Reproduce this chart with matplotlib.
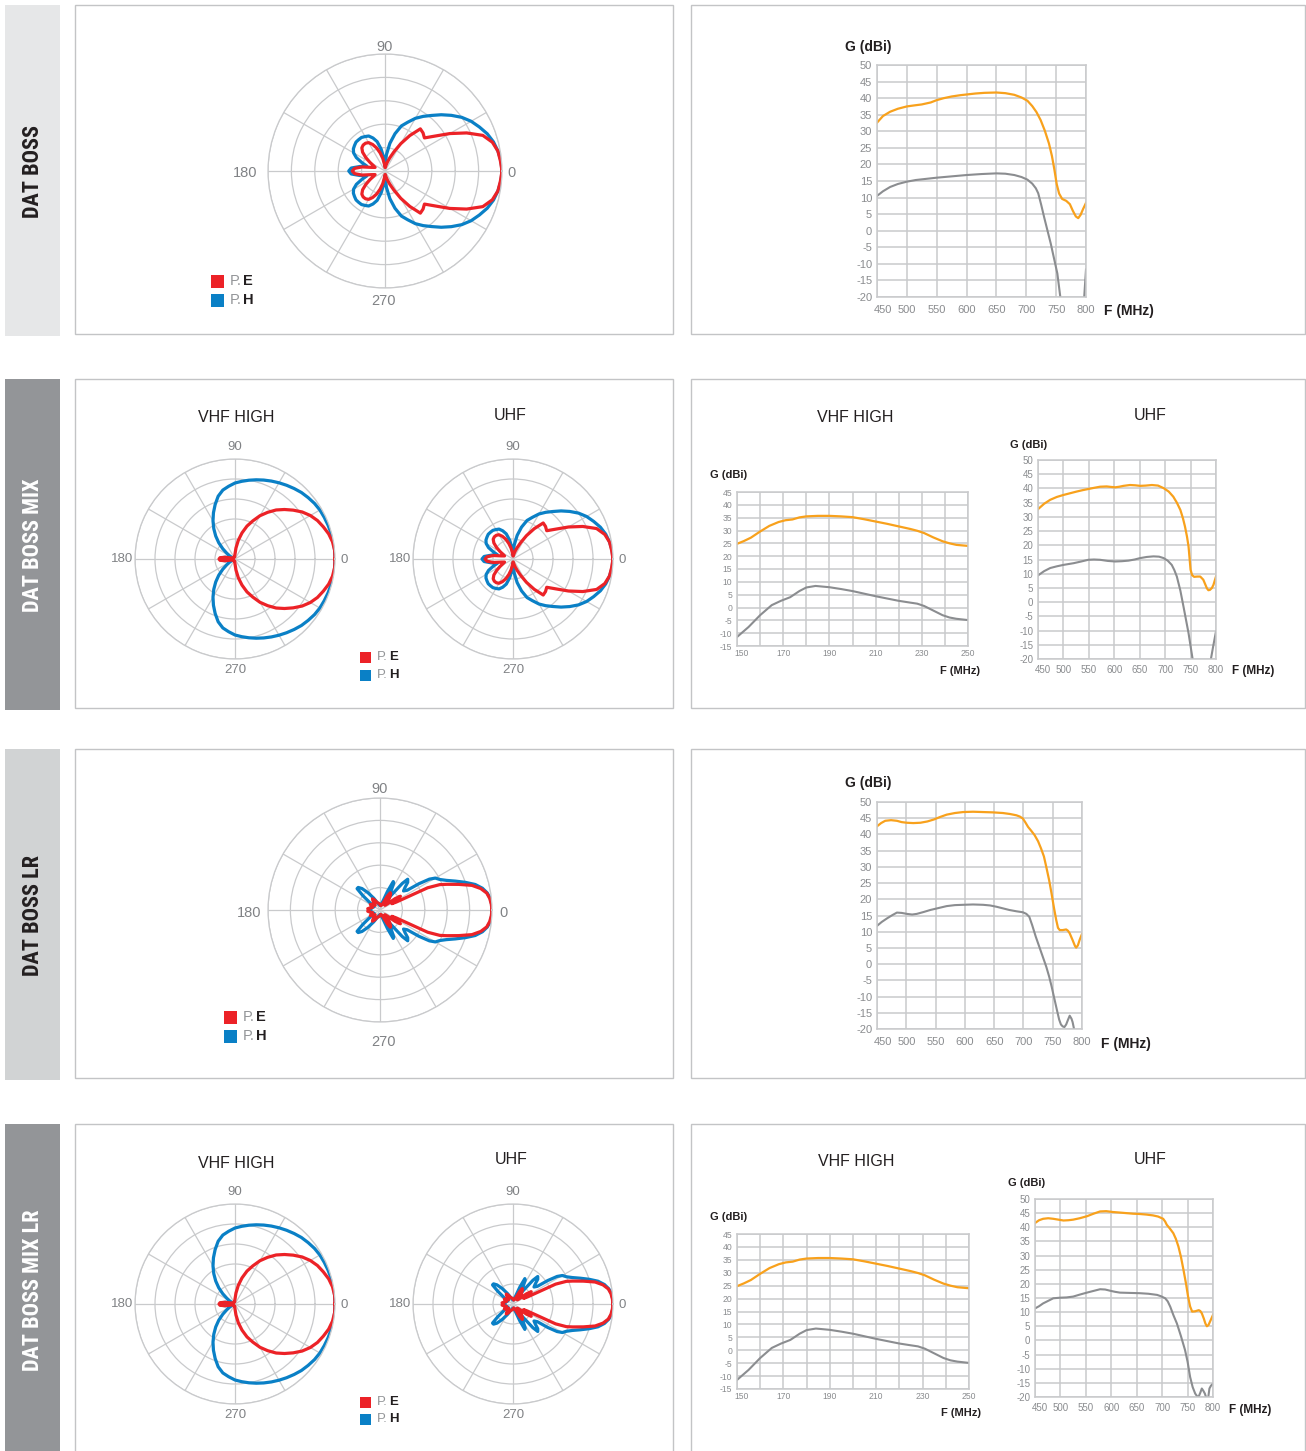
import numpy as np
import matplotlib
matplotlib.use("Agg")
import matplotlib.pyplot as plt
from matplotlib.patches import Rectangle
from matplotlib.transforms import ScaledTranslation
from matplotlib import font_manager

# ---------------- data ----------------
# radiation patterns (normalised), read every 5 deg from 0 to 180, patterns are symmetric
pat_ang = list(range(0, 181, 5))

uhf_pe = [1.00, 0.99, 0.98, 0.95, 0.89, 0.77, 0.64, 0.52, 0.44, 0.46, 0.47, 0.37, 0.27, 0.18, 0.12, 0.08, 0.05, 0.03, 0.03,
          0.06, 0.11, 0.16, 0.21, 0.25, 0.28, 0.29, 0.29, 0.28, 0.25, 0.20, 0.15, 0.11, 0.09, 0.12, 0.20, 0.26, 0.28]
uhf_ph = [1.00, 0.995, 0.98, 0.96, 0.93, 0.89, 0.85, 0.80, 0.74, 0.68, 0.62, 0.57, 0.52, 0.46, 0.41, 0.33, 0.24, 0.14, 0.04,
          0.11, 0.19, 0.26, 0.30, 0.33, 0.34, 0.35, 0.35, 0.35, 0.34, 0.33, 0.31, 0.27, 0.21, 0.16, 0.22, 0.29, 0.31]

vhf_pe = [1.00, 1.00, 0.99, 0.97, 0.94, 0.91, 0.87, 0.82, 0.76, 0.70, 0.64, 0.57, 0.50, 0.42, 0.35, 0.27, 0.19, 0.11, 0.05,
          0.03, 0.02, 0.02, 0.02, 0.02, 0.02, 0.02, 0.02, 0.02, 0.02, 0.02, 0.02, 0.02, 0.02, 0.04, 0.10, 0.15, 0.16]
vhf_ph = [1.00, 1.00, 1.00, 0.995, 0.99, 0.985, 0.98, 0.97, 0.955, 0.94, 0.92, 0.90, 0.88, 0.86, 0.84, 0.82, 0.80, 0.78, 0.76,
          0.73, 0.70, 0.65, 0.58, 0.51, 0.44, 0.37, 0.30, 0.23, 0.16, 0.10, 0.06, 0.03, 0.02, 0.04, 0.10, 0.14, 0.15]

# long range pattern, irregular angles
lr_pe_ang = [0, 3, 6, 9, 12, 15, 18, 21, 23, 25, 26, 28, 31, 34, 37, 40, 44, 48, 52, 56, 59, 62, 66, 70, 80, 90,
             100, 110, 118, 124, 130, 136, 142, 150, 160, 168, 174, 180]
lr_pe = [1.00, 0.995, 0.985, 0.965, 0.92, 0.85, 0.74, 0.64, 0.58, 0.47, 0.16, 0.12, 0.18, 0.22, 0.17, 0.08, 0.06, 0.10,
         0.14, 0.17, 0.18, 0.14, 0.07, 0.05, 0.04, 0.05, 0.06, 0.07, 0.10, 0.12, 0.09, 0.06, 0.08, 0.10, 0.07, 0.09, 0.11, 0.10]
lr_ph_ang = [0, 3, 6, 9, 12, 15, 18, 21, 24, 27, 30, 32, 34, 36, 39, 42, 45, 48, 50, 53, 56, 60, 63, 65, 68, 72, 80, 90,
             100, 110, 118, 125, 130, 134, 137, 140, 145, 152, 160, 170, 180]
lr_ph = [1.00, 0.998, 0.99, 0.97, 0.935, 0.88, 0.80, 0.72, 0.65, 0.60, 0.57, 0.52, 0.42, 0.30, 0.27, 0.30, 0.35, 0.37,
         0.31, 0.16, 0.12, 0.20, 0.27, 0.28, 0.18, 0.08, 0.05, 0.04, 0.05, 0.07, 0.12, 0.19, 0.25, 0.28, 0.28, 0.20, 0.10,
         0.06, 0.07, 0.09, 0.08]

# gain curves, G (dBi) vs F (MHz)
boss_f1 = [450, 460, 472, 485, 500, 512, 525, 540, 550, 562, 575, 590, 600, 615, 630, 650, 665, 680, 692, 702, 710, 717,
           724, 731, 738, 743, 747, 751, 755, 760, 767, 773, 778, 783, 787, 791, 795, 800]
boss_g1 = [32.6, 34.6, 35.9, 36.8, 37.5, 37.8, 38.1, 38.7, 39.4, 40.0, 40.5, 40.9, 41.1, 41.4, 41.6, 41.7, 41.5, 41.0,
           40.2, 39.2, 37.6, 35.8, 33.4, 30.2, 26.3, 22.5, 18.5, 14.0, 11.2, 9.6, 9.0, 8.0, 6.0, 4.3, 3.8, 4.8, 6.5, 8.4]
boss_f2 = [450, 460, 472, 485, 500, 515, 530, 550, 575, 600, 625, 650, 665, 680, 692, 702, 710, 716, 720, 725, 730, 741,
           752, 757, 762, 790, 797, 800]
boss_g2 = [10.5, 11.9, 13.2, 14.1, 14.8, 15.3, 15.6, 16.0, 16.4, 16.8, 17.1, 17.3, 17.2, 16.8, 16.2, 15.4, 14.2, 12.8,
           11.3, 7.8, 4.0, -3.9, -12.9, -20.0, -26.0, -26.0, -20.0, -11.7]

vhf_f1 = [150, 153, 156, 160, 164, 168, 171, 174, 177, 180, 185, 190, 195, 200, 205, 210, 215, 220, 225, 228, 231, 235,
          239, 242, 245, 250]
vhf_g1 = [24.8, 25.9, 27.2, 29.6, 31.8, 33.3, 34.0, 34.3, 35.1, 35.5, 35.7, 35.7, 35.5, 35.2, 34.4, 33.5, 32.6, 31.6,
          30.6, 29.9, 29.0, 27.3, 25.8, 25.0, 24.4, 24.0]
vhf_f2 = [150, 155, 160, 165, 169, 173, 177, 180, 184, 190, 195, 200, 205, 210, 215, 220, 225, 228, 231, 235, 239, 242,
          245, 250]
vhf_g2 = [-11.5, -7.6, -3.0, 0.9, 2.6, 4.0, 6.4, 7.8, 8.4, 7.9, 7.2, 6.4, 5.4, 4.4, 3.5, 2.6, 1.9, 1.5, 0.6, -1.2,
          -3.0, -3.9, -4.4, -4.9]

mix_f1 = [450, 462, 474, 487, 500, 513, 526, 538, 549, 560, 572, 585, 595, 602, 610, 618, 631, 641, 651, 662, 674, 686,
          697, 707, 716, 723, 730, 735, 739, 743, 746, 748, 750, 753, 757, 763, 769, 775, 779, 782, 785, 788, 792, 795, 800]
mix_g1 = [32.7, 34.6, 36.0, 37.0, 37.7, 38.3, 38.9, 39.4, 39.8, 40.2, 40.6, 40.7, 40.5, 40.4, 40.6, 40.9, 41.2, 41.1,
          40.9, 41.0, 41.2, 41.0, 40.1, 38.9, 37.1, 35.0, 32.4, 29.5, 26.6, 23.0, 19.6, 15.5, 11.4, 9.5, 8.9, 9.0, 9.0,
          7.9, 6.2, 4.9, 4.2, 4.3, 5.0, 6.1, 9.0]
mix_f2 = [450, 462, 474, 487, 500, 520, 535, 549, 560, 572, 587, 602, 615, 628, 640, 651, 664, 677, 688, 697, 705, 713,
          718, 723, 730, 736, 741, 746, 750, 754, 758, 785, 790, 795, 800]
mix_g2 = [9.4, 10.9, 12.0, 12.6, 13.1, 13.7, 14.3, 14.9, 15.0, 14.9, 14.5, 14.3, 14.4, 14.6, 15.0, 15.5, 15.9, 16.1,
          16.0, 15.5, 14.6, 13.1, 11.3, 9.0, 4.0, -1.5, -6.2, -10.9, -15.5, -20.0, -26.0, -26.0, -20.0, -15.0, -10.3]

lr_f1 = [450, 457, 464, 474, 484, 492, 501, 512, 524, 536, 547, 558, 569, 583, 597, 614, 631, 648, 665, 677, 688, 694,
         699, 703, 708, 713, 719, 725, 730, 735, 739, 744, 748, 752, 756, 759, 762, 767, 773, 776, 779, 784, 788, 790,
         793, 796, 800]
lr_g1 = [42.5, 43.5, 44.2, 44.4, 44.2, 43.8, 43.6, 43.5, 43.6, 44.0, 44.6, 45.4, 46.1, 46.6, 46.9, 47.0, 46.9, 46.8,
         46.6, 46.3, 45.9, 45.5, 44.9, 43.8, 42.3, 41.2, 39.8, 37.9, 35.7, 33.2, 30.0, 25.8, 21.8, 17.5, 13.6, 11.2, 10.5,
         10.5, 10.7, 10.3, 9.5, 7.4, 5.6, 5.1, 5.8, 7.5, 9.3]
lr_f2 = [450, 458, 467, 476, 484, 492, 501, 510, 518, 530, 541, 555, 569, 583, 597, 614, 631, 643, 654, 665, 676, 688,
         699, 705, 710, 715, 721, 727, 733, 739, 744, 748, 752, 757, 761, 764, 767, 770, 773, 776, 779, 782, 784, 787, 792]
lr_g2 = [11.8, 13.0, 14.1, 15.1, 15.9, 15.8, 15.5, 15.3, 15.5, 16.1, 16.7, 17.3, 17.9, 18.2, 18.3, 18.4, 18.3, 18.1,
         17.7, 17.2, 16.7, 16.3, 16.0, 15.5, 14.6, 12.0, 8.5, 5.4, 2.3, -0.8, -3.9, -6.8, -10.0, -14.0, -17.1, -18.6,
         -19.2, -19.4, -18.6, -17.2, -15.9, -16.8, -17.9, -20.5, -26.0]

lrmix_f1 = [450, 458, 466, 476, 486, 496, 506, 516, 525, 538, 552, 565, 578, 590, 603, 617, 630, 643, 656, 669, 682,
            692, 702, 706, 709, 715, 722, 727, 732, 737, 742, 747, 751, 755, 759, 765, 772, 775, 778, 782, 785, 788, 791,
            795, 800]
lrmix_g1 = [41.5, 42.5, 43.0, 43.2, 43.0, 42.7, 42.4, 42.5, 42.7, 43.2, 43.9, 44.8, 45.6, 45.7, 45.4, 45.2, 45.0, 44.8,
            44.7, 44.5, 44.2, 43.8, 43.0, 42.0, 40.9, 39.6, 37.9, 35.9, 33.2, 29.5, 24.9, 20.0, 15.5, 12.0, 10.2, 10.3,
            10.7, 10.4, 9.6, 7.7, 6.0, 5.0, 5.4, 7.0, 9.0]
lrmix_f2 = [450, 458, 466, 476, 486, 499, 512, 525, 538, 552, 565, 578, 588, 597, 607, 617, 636, 656, 673, 690, 698,
            706, 711, 716, 722, 729, 737, 745, 750, 755, 760, 765, 769, 772, 775, 778, 781, 784, 787, 790, 793, 796, 800]
lrmix_g2 = [11.3, 12.1, 13.1, 14.0, 14.9, 15.1, 15.2, 15.5, 16.2, 16.9, 17.5, 18.1, 18.0, 17.6, 17.2, 16.9, 16.8, 16.7,
            16.5, 16.1, 15.6, 14.9, 13.8, 11.9, 9.0, 6.0, 1.5, -3.4, -7.5, -12.9, -16.5, -18.8, -19.8, -19.8, -18.5,
            -17.0, -17.8, -18.8, -20.4, -21.0, -17.0, -16.0, -15.3]

row_names = ["DAT BOSS", "DAT BOSS MIX", "DAT BOSS LR", "DAT BOSS MIX LR"]
angle_labels = ["0", "90", "180", "270"]

# ---------------- style ----------------
RED = "#ec2227"
BLUE = "#0a80c6"
ORANGE = "#f8a11c"
GREYLINE = "#8b8d90"
GRID = "#c9cacc"
TICK = "#8a8c8f"
DARK = "#231f20"

plt.rcParams["axes.unicode_minus"] = False

fonts = font_manager.fontManager.ttflist
names = {f.name for f in fonts}
SANS = "Liberation Sans" if "Liberation Sans" in names else "DejaVu Sans"


def weight_of(f):
    w = f.weight
    return w if isinstance(w, int) else font_manager.weight_dict.get(w, 400)


bold_narrow = [n for n in ["Liberation Sans Narrow", "DejaVu Sans Condensed", "Roboto Condensed",
                           "Open Sans Condensed", "Noto Sans Condensed"]
               if any(f.name == n and weight_of(f) >= 600 for f in fonts)]
if bold_narrow:
    ROWFONT, ROWFS = bold_narrow[0], 16
else:
    ROWFONT, ROWFS = SANS, 14

W, H = 1306, 1451
fig = plt.figure(figsize=(W / 100, H / 100), dpi=100)


def rect_px(x0, y0, x1, y1, **kw):
    fig.patches.append(Rectangle((x0 / W, 1 - y1 / H), (x1 - x0) / W, (y1 - y0) / H,
                                 transform=fig.transFigure, **kw))


def text_px(x, y, s, **kw):
    fig.text(x / W, 1 - y / H, s, **kw)


def mirror(ang, r):
    a = np.asarray(ang, float)
    v = np.asarray(r, float)
    th = np.concatenate([a, 360 - a[::-1][1:]])
    rr = np.concatenate([v, v[::-1][1:]])
    return np.deg2rad(th), rr


def polar_chart(cx, cy, R, pe, ph, fs, offs):
    ax = fig.add_axes([(cx - R) / W, 1 - (cy + R) / H, 2 * R / W, 2 * R / H], projection="polar")
    th, r = mirror(*ph)
    ax.plot(th, r, color=BLUE, lw=2.3, solid_joinstyle="round")
    th, r = mirror(*pe)
    ax.plot(th, r, color=RED, lw=2.3, solid_joinstyle="round")
    ax.set_ylim(0, 1)
    ax.set_rticks([0.2, 0.4, 0.6, 0.8, 1.0])
    ax.set_yticklabels([])
    ax.set_xticks(np.deg2rad(np.arange(0, 360, 30)))
    ax.set_xticklabels([])
    ax.tick_params(axis="x", length=0)
    ax.grid(True, color=GRID, lw=0.9)
    ax.spines["polar"].set_color(GRID)
    ax.spines["polar"].set_linewidth(0.9)
    # angle labels just outside the ring, offsets in pixels (x right, y down)
    for lab, (dx, dy) in zip(angle_labels, offs):
        ax.annotate(lab, xy=(np.deg2rad(float(lab)), 1.0), xytext=(dx * 0.72, -dy * 0.72),
                    textcoords="offset points", ha="center", va="center", color="#808285",
                    fontsize=fs, family=SANS, annotation_clip=False)
    return ax


def gain_chart(x0, y0, x1, y1, xs, ys, xlim, xticks, xlabels, ylim, fs, xpad, shift):
    ax = fig.add_axes([x0 / W, 1 - y1 / H, (x1 - x0) / W, (y1 - y0) / H])
    ax.plot(xs[0], ys[0], color=ORANGE, lw=1.6)
    ax.plot(xs[1], ys[1], color=GREYLINE, lw=1.5)
    ax.set_xlim(*xlim)
    ax.set_ylim(*ylim)
    ax.set_xticks(xticks)
    ax.set_xticklabels(xlabels)
    ax.set_yticks(np.arange(ylim[0], ylim[1] + 1, 5))
    ax.grid(True, color=GRID, lw=1.1)
    ax.set_axisbelow(True)
    for s in ax.spines.values():
        s.set_color(GRID)
        s.set_linewidth(1.1)
    ax.tick_params(length=0, labelsize=fs, labelcolor=TICK)
    ax.tick_params(axis="y", pad=3.5)
    ax.tick_params(axis="x", pad=xpad)
    for t in ax.get_xticklabels() + ax.get_yticklabels():
        t.set_fontfamily(SANS)
    first = ax.get_xticklabels()[0]
    first.set_transform(first.get_transform() + ScaledTranslation(shift / 100, 0, fig.dpi_scale_trans))
    return ax


def legend(x, y1, y2, sq, fs):
    for y, col, letter in [(y1, RED, "E"), (y2, BLUE, "H")]:
        rect_px(x, y - sq / 2, x + sq, y + sq / 2, facecolor=col, edgecolor="none")
        text_px(x + sq + 6, y, "P.", color="#939598", fontsize=fs, family=SANS, va="center", ha="left")
        text_px(x + sq + 6 + fs * 1.25, y, letter, color=DARK, fontsize=fs, family=SANS, weight="bold",
                va="center", ha="left")


# ---------------- layout ----------------
rows = [(5, 336), (379, 710), (749, 1080), (1124, 1460)]
bar_cols = ["#e6e7e8", "#939598", "#d1d3d4", "#939598"]
bar_txt = [DARK, "white", DARK, "white"]

for (ya, yb), name, bc, tc in zip(rows, row_names, bar_cols, bar_txt):
    rect_px(5, ya, 60, yb, facecolor=bc, edgecolor="none")
    text_px(33, (ya + min(yb, 1451)) / 2 + (1 if yb < 1451 else 3), name, rotation=90, ha="center", va="center",
            color=tc, fontsize=ROWFS, weight="bold", family=ROWFONT)
    rect_px(75, ya, 673, yb - 2, facecolor="none", edgecolor="#c3c4c6", lw=1)
    rect_px(691, ya, 1305, yb - 2, facecolor="none", edgecolor="#c3c4c6", lw=1)

uhf_pat = ((pat_ang, uhf_pe), (pat_ang, uhf_ph))
vhf_pat = ((pat_ang, vhf_pe), (pat_ang, vhf_ph))
lr_pat = ((lr_pe_ang, lr_pe), (lr_ph_ang, lr_ph))

big_offs = [(9, 2), (0, -7), (-23, 2), (-2, 13)]
lr_offs = [(12, 3), (0, -9), (-19, 3), (3, 20)]
small_offs = [(9, 1), (0, -12), (-13, 0), (0, 11)]

uhf_ticks = [450, 500, 550, 600, 650, 700, 750, 800]
uhf_labels = [str(v) for v in uhf_ticks]
vhf_ticks = list(range(150, 251, 10))
vhf_labels = [str(v) if (v - 150) % 20 == 0 else "" for v in vhf_ticks]

# row 1 - DAT BOSS
polar_chart(385, 171, 117, *uhf_pat, fs=10.5, offs=big_offs)
legend(211, 281, 300, 13, 10.5)
gain_chart(877, 65, 1086, 297, (boss_f1, boss_f2), (boss_g1, boss_g2), (450, 800), uhf_ticks, uhf_labels,
           (-20, 50), 8.0, 6, 6)
text_px(845, 47, "G (dBi)", fontsize=10, weight="bold", family=SANS, color=DARK, va="center")
text_px(1104, 311, "F (MHz)", fontsize=10, weight="bold", family=SANS, color=DARK, va="center")

# row 2 - DAT BOSS MIX
polar_chart(235, 559, 100, *vhf_pat, fs=9.5, offs=small_offs)
polar_chart(513, 559, 100, *uhf_pat, fs=9.5, offs=small_offs)
text_px(236, 418, "VHF HIGH", fontsize=11.5, family=SANS, color=DARK, ha="center", va="center")
text_px(510, 415, "UHF", fontsize=11.5, family=SANS, color=DARK, ha="center", va="center")
legend(360, 657, 675, 11, 9.5)
text_px(855, 418, "VHF HIGH", fontsize=11.5, family=SANS, color=DARK, ha="center", va="center")
text_px(1150, 415, "UHF", fontsize=11.5, family=SANS, color=DARK, ha="center", va="center")
gain_chart(737, 492, 968, 646, (vhf_f1, vhf_f2), (vhf_g1, vhf_g2), (150, 250), vhf_ticks, vhf_labels,
           (-15, 45), 6.2, 2.5, 5)
text_px(710, 475, "G (dBi)", fontsize=8, weight="bold", family=SANS, color=DARK, va="center")
text_px(980, 671, "F (MHz)", fontsize=8, weight="bold", family=SANS, color=DARK, va="center", ha="right")
gain_chart(1038, 460, 1216, 659, (mix_f1, mix_f2), (mix_g1, mix_g2), (450, 800), uhf_ticks, uhf_labels,
           (-20, 50), 7.0, 4.5, 5)
text_px(1010, 445, "G (dBi)", fontsize=8, weight="bold", family=SANS, color=DARK, va="center")
text_px(1232, 671, "F (MHz)", fontsize=8.5, weight="bold", family=SANS, color=DARK, va="center")

# row 3 - DAT BOSS LR
polar_chart(380, 910, 112, *lr_pat, fs=10.5, offs=lr_offs)
legend(224, 1017, 1036, 13, 10.5)
gain_chart(877, 802, 1082, 1029, (lr_f1, lr_f2), (lr_g1, lr_g2), (450, 800), uhf_ticks, uhf_labels,
           (-20, 50), 8.0, 6, 6)
text_px(845, 783, "G (dBi)", fontsize=10, weight="bold", family=SANS, color=DARK, va="center")
text_px(1101, 1044, "F (MHz)", fontsize=10, weight="bold", family=SANS, color=DARK, va="center")

# row 4 - DAT BOSS MIX LR
polar_chart(235, 1304, 100, *vhf_pat, fs=9.5, offs=small_offs)
polar_chart(513, 1304, 100, *lr_pat, fs=9.5, offs=small_offs)
text_px(236, 1163, "VHF HIGH", fontsize=11.5, family=SANS, color=DARK, ha="center", va="center")
text_px(511, 1160, "UHF", fontsize=11.5, family=SANS, color=DARK, ha="center", va="center")
legend(360, 1402, 1419, 11, 9.5)
text_px(856, 1162, "VHF HIGH", fontsize=11.5, family=SANS, color=DARK, ha="center", va="center")
text_px(1150, 1160, "UHF", fontsize=11.5, family=SANS, color=DARK, ha="center", va="center")
gain_chart(737, 1234, 969, 1389, (vhf_f1, vhf_f2), (vhf_g1, vhf_g2), (150, 250), vhf_ticks, vhf_labels,
           (-15, 45), 6.2, 2.5, 5)
text_px(710, 1217, "G (dBi)", fontsize=8, weight="bold", family=SANS, color=DARK, va="center")
text_px(981, 1413, "F (MHz)", fontsize=8, weight="bold", family=SANS, color=DARK, va="center", ha="right")
gain_chart(1035, 1199, 1213, 1397, (lrmix_f1, lrmix_f2), (lrmix_g1, lrmix_g2), (450, 800), uhf_ticks, uhf_labels,
           (-20, 50), 7.0, 4.5, 5)
text_px(1008, 1183, "G (dBi)", fontsize=8, weight="bold", family=SANS, color=DARK, va="center")
text_px(1229, 1410, "F (MHz)", fontsize=8.5, weight="bold", family=SANS, color=DARK, va="center")

fig.savefig("out.png", dpi=100, facecolor="white")
